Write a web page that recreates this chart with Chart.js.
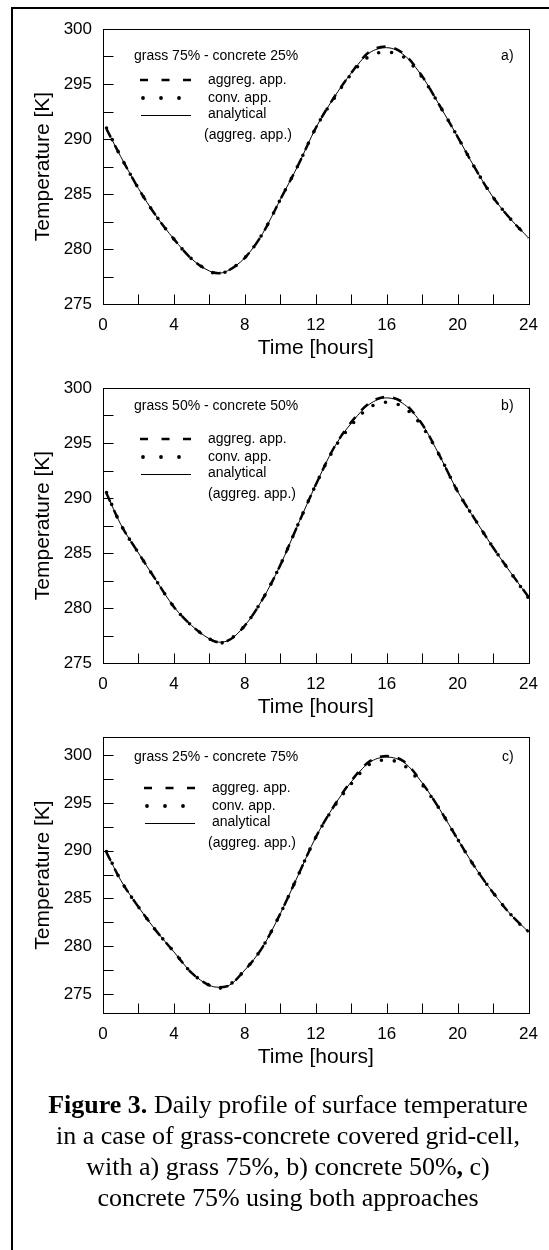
<!DOCTYPE html>
<html>
<head>
<meta charset="utf-8">
<script src="https://cdn.jsdelivr.net/npm/chart.js@4.4.1/dist/chart.umd.min.js"></script>
<style>
  body { margin: 0; background: #fff; }
  #page { position: relative; width: 549px; height: 1250px; overflow: hidden; background: #fff; }
  #frame { position: absolute; left: 11px; top: 7px; width: 600px; height: 1300px; border-left: 2px solid #000; border-top: 2px solid #000; }
  canvas { position: absolute; left: 0; }
  #caption { position: absolute; left: 18px; width: 540px; top: 1089px; text-align: center; white-space: nowrap;
             font-family: "Liberation Serif", "Times New Roman", serif; font-size: 26px; line-height: 31px; color: #000; }
</style>
</head>
<body>
<div id="page">
  <div id="frame"></div>
  <canvas id="chartA" width="549" height="370" style="top:0px"></canvas>
  <canvas id="chartB" width="549" height="370" style="top:359px"></canvas>
  <canvas id="chartC" width="549" height="370" style="top:708px"></canvas>
  <div id="caption"><b>Figure 3.</b> Daily profile of surface temperature<br>in a case of grass-concrete covered grid-cell,<br>with a) grass 75%, b) concrete 50%<b>,</b> c)<br>concrete 75% using both approaches</div>
</div>
<script>
// horas
const hours = [0.2, 1, 2, 3, 4, 5, 6, 6.5, 7, 8, 9, 10, 11, 12, 13, 14, 15, 16, 17, 18, 19, 20, 21, 22, 23, 24];

// a) grass 75% - concrete 25%
const aAnalytical = [290.9, 288.4, 285.5, 283.0, 280.9, 279.1, 278.0, 277.8, 278.0, 279.2, 281.4, 284.5, 287.6, 291.0, 293.7, 296.0, 297.8, 298.3, 297.6, 295.7, 293.0, 290.2, 287.3, 284.7, 282.7, 281.0];
const aAggreg     = [290.9, 288.4, 285.5, 283.0, 280.9, 279.1, 278.0, 277.8, 278.0, 279.2, 281.4, 284.5, 287.6, 291.0, 293.7, 296.0, 297.9, 298.4, 297.7, 295.7, 293.0, 290.2, 287.3, 284.7, 282.7, 281.0];
const aConv       = [291.0, 288.4, 285.5, 283.0, 280.9, 279.1, 278.0, 277.7, 278.0, 279.2, 281.4, 284.5, 287.6, 291.0, 293.6, 295.9, 297.5, 297.9, 297.4, 295.6, 293.0, 290.2, 287.3, 284.7, 282.7, 281.0];

// b) grass 50% - concrete 50%
const bAnalytical = [290.4, 287.6, 285.0, 282.5, 280.1, 278.4, 277.2, 276.9, 277.0, 278.4, 280.8, 283.9, 287.6, 291.2, 294.5, 296.8, 298.5, 299.1, 298.5, 296.7, 293.8, 290.6, 288.0, 285.5, 283.2, 281.0];
const bAggreg     = [290.4, 287.6, 285.0, 282.5, 280.1, 278.4, 277.2, 276.9, 277.0, 278.4, 280.8, 283.9, 287.6, 291.2, 294.5, 296.9, 298.6, 299.2, 298.6, 296.7, 293.8, 290.6, 288.0, 285.5, 283.2, 281.0];
const bConv       = [290.5, 287.6, 285.0, 282.5, 280.1, 278.4, 277.2, 276.8, 277.0, 278.4, 280.8, 283.9, 287.6, 291.2, 294.4, 296.6, 298.2, 298.7, 298.2, 296.5, 293.8, 290.6, 288.0, 285.5, 283.2, 280.9];

// c) grass 25% - concrete 75%
const cAnalytical = [289.8, 286.9, 284.1, 281.6, 279.4, 277.2, 275.9, 275.7, 275.8, 277.5, 279.9, 283.4, 287.4, 291.4, 294.6, 297.2, 299.2, 299.8, 299.2, 297.1, 294.3, 291.2, 288.2, 285.6, 283.3, 281.5];
const cAggreg     = [289.8, 286.9, 284.1, 281.6, 279.4, 277.2, 275.9, 275.7, 275.8, 277.5, 279.9, 283.4, 287.4, 291.4, 294.6, 297.3, 299.3, 299.9, 299.3, 297.1, 294.3, 291.2, 288.2, 285.6, 283.3, 281.5];
const cConv       = [289.9, 286.9, 284.1, 281.6, 279.4, 277.2, 275.9, 275.6, 275.8, 277.5, 279.9, 283.4, 287.4, 291.4, 294.5, 297.0, 299.0, 299.5, 298.9, 296.9, 294.3, 291.2, 288.2, 285.6, 283.3, 281.4];

// ticks y etiquetas
const xTicks = [0, 2, 4, 6, 8, 10, 12, 14, 16, 18, 20, 22, 24];
const xLabels = [0, 4, 8, 12, 16, 20, 24];
const yTicks = [275, 277.5, 280, 282.5, 285, 287.5, 290, 292.5, 295, 297.5, 300];
const yLabels = [275, 280, 285, 290, 295, 300];

const legendNames = ['aggreg. app.', 'conv. app.', 'analytical', '(aggreg. app.)'];

Chart.defaults.font.family = '"Liberation Sans", Arial, sans-serif';
Chart.defaults.color = '#000';

// Caja completa y ticks hacia adentro
const boxPlugin = {
    id: 'boxTicks',
    afterDraw(chart) {
        const {ctx, chartArea: a, scales: {x, y}} = chart;
        const l = Math.round(a.left) + 0.5, r = Math.round(a.right) + 0.5;
        const t = Math.round(a.top) + 0.5, b = Math.round(a.bottom) + 0.5;
        ctx.save();
        ctx.strokeStyle = '#000';
        ctx.lineWidth = 1;
        ctx.strokeRect(l, t, r - l, b - t);
        ctx.beginPath();
        x.ticks.forEach(tk => {
            const px = Math.round(x.getPixelForValue(tk.value)) + 0.5;
            ctx.moveTo(px, b);
            ctx.lineTo(px, b - 10);
        });
        y.ticks.forEach(tk => {
            const py = Math.round(y.getPixelForValue(tk.value)) + 0.5;
            ctx.moveTo(l, py);
            ctx.lineTo(l + 10, py);
        });
        ctx.stroke();
        ctx.restore();
    }
};

// Leyenda y anotaciones dentro del gráfico
const notesPlugin = {
    id: 'notes',
    afterDraw(chart, args, o) {
        const {ctx, chartArea: a} = chart;
        const L = a.left, T = a.top;
        ctx.save();
        ctx.fillStyle = '#000';
        ctx.strokeStyle = '#000';
        ctx.font = '14px "Liberation Sans", Arial, sans-serif';
        ctx.textBaseline = 'middle';
        ctx.textAlign = 'left';
        ctx.fillText(o.title, L + 31, T + o.titleDy);
        ctx.textAlign = 'right';
        ctx.fillText(o.letter, a.right - 15, T + o.titleDy);
        ctx.textAlign = 'left';

        const s = o.sx;
        // guiones
        ctx.lineWidth = 2.6;
        ctx.setLineDash([8, 13.5]);
        ctx.beginPath();
        ctx.moveTo(L + s, T + 51);
        ctx.lineTo(L + s + 52, T + 51);
        ctx.stroke();
        ctx.setLineDash([]);
        // puntos
        [0, 18, 36].forEach(d => {
            ctx.beginPath();
            ctx.arc(L + s + 3 + d, T + 69, 1.9, 0, Math.PI * 2);
            ctx.fill();
        });
        // linea continua
        ctx.lineWidth = 1;
        ctx.beginPath();
        ctx.moveTo(L + s + 1, T + 86.5);
        ctx.lineTo(L + s + 51, T + 86.5);
        ctx.stroke();

        ctx.fillText(legendNames[0], L + o.tx, T + 51);
        ctx.fillText(legendNames[1], L + o.tx, T + 69);
        ctx.fillText(legendNames[2], L + o.tx, T + 85);
        ctx.fillText(legendNames[3], L + o.px, T + 106);
        ctx.restore();
    }
};

function toPoints(arr) {
    return hours.map((h, i) => ({x: h, y: arr[i]}));
}

function makeChart(id, aggreg, conv, analytical, yMin, yMax, axisH, notes) {
    const ctx = document.getElementById(id).getContext('2d');
    return new Chart(ctx, {
        type: 'line',
        data: {
            datasets: [
                {
                    label: 'aggreg. app.',
                    data: toPoints(aggreg),
                    borderColor: '#000',
                    borderWidth: 2.5,
                    borderDash: [9, 9],
                    pointRadius: 0,
                    cubicInterpolationMode: 'monotone',
                    clip: 4
                },
                {
                    label: 'conv. app.',
                    data: toPoints(conv),
                    borderColor: '#000',
                    borderWidth: 3.6,
                    borderDash: [0, 13],
                    borderCapStyle: 'round',
                    pointRadius: 0,
                    cubicInterpolationMode: 'monotone',
                    clip: 4
                },
                {
                    label: 'analytical',
                    data: toPoints(analytical),
                    borderColor: '#000',
                    borderWidth: 1,
                    pointRadius: 0,
                    cubicInterpolationMode: 'monotone',
                    clip: 4
                }
            ]
        },
        options: {
            responsive: false,
            animation: false,
            devicePixelRatio: 1,
            layout: { padding: { top: 29, right: 16, left: 0, bottom: 0 } },
            plugins: {
                legend: { display: false },
                tooltip: { enabled: false },
                notes: notes
            },
            scales: {
                x: {
                    type: 'linear',
                    min: 0,
                    max: 24,
                    afterBuildTicks: s => { s.ticks = xTicks.map(v => ({value: v})); },
                    afterFit: s => { s.height = axisH; },
                    grid: { display: false, drawTicks: false },
                    border: { display: false },
                    ticks: {
                        autoSkip: false,
                        maxRotation: 0,
                        padding: 11,
                        font: { size: 17 },
                        callback: v => xLabels.includes(v) ? String(v) : ''
                    },
                    title: {
                        display: true,
                        text: 'Time [hours]',
                        font: { size: 21 },
                        padding: { top: 0, bottom: notes.xTitlePad }
                    }
                },
                y: {
                    min: yMin,
                    max: yMax,
                    afterBuildTicks: s => { s.ticks = yTicks.map(v => ({value: v})); },
                    afterFit: s => { s.width = 103; },
                    grid: { display: false, drawTicks: false },
                    border: { display: false },
                    ticks: {
                        padding: 11,
                        font: { size: 17 },
                        callback: v => yLabels.includes(v) ? String(v) : ''
                    },
                    title: {
                        display: true,
                        text: 'Temperature [K]',
                        font: { size: 21 },
                        padding: { top: 31, bottom: 0 }
                    }
                }
            }
        },
        plugins: [boxPlugin, notesPlugin]
    });
}

makeChart('chartA', aAggreg, aConv, aAnalytical, 275, 300, 66,
    { title: 'grass 75% - concrete 25%', letter: 'a)', titleDy: 27, sx: 37, tx: 105, px: 101, xTitlePad: 9.4 });
makeChart('chartB', bAggreg, bConv, bAnalytical, 275, 300, 66,
    { title: 'grass 50% - concrete 50%', letter: 'b)', titleDy: 18, sx: 37, tx: 105, px: 105, xTitlePad: 9.4 });
makeChart('chartC', cAggreg, cConv, cAnalytical, 273, 301.9, 65,
    { title: 'grass 25% - concrete 75%', letter: 'c)', titleDy: 20, sx: 41, tx: 109, px: 105, xTitlePad: 8.4 });
</script>
</body>
</html>
